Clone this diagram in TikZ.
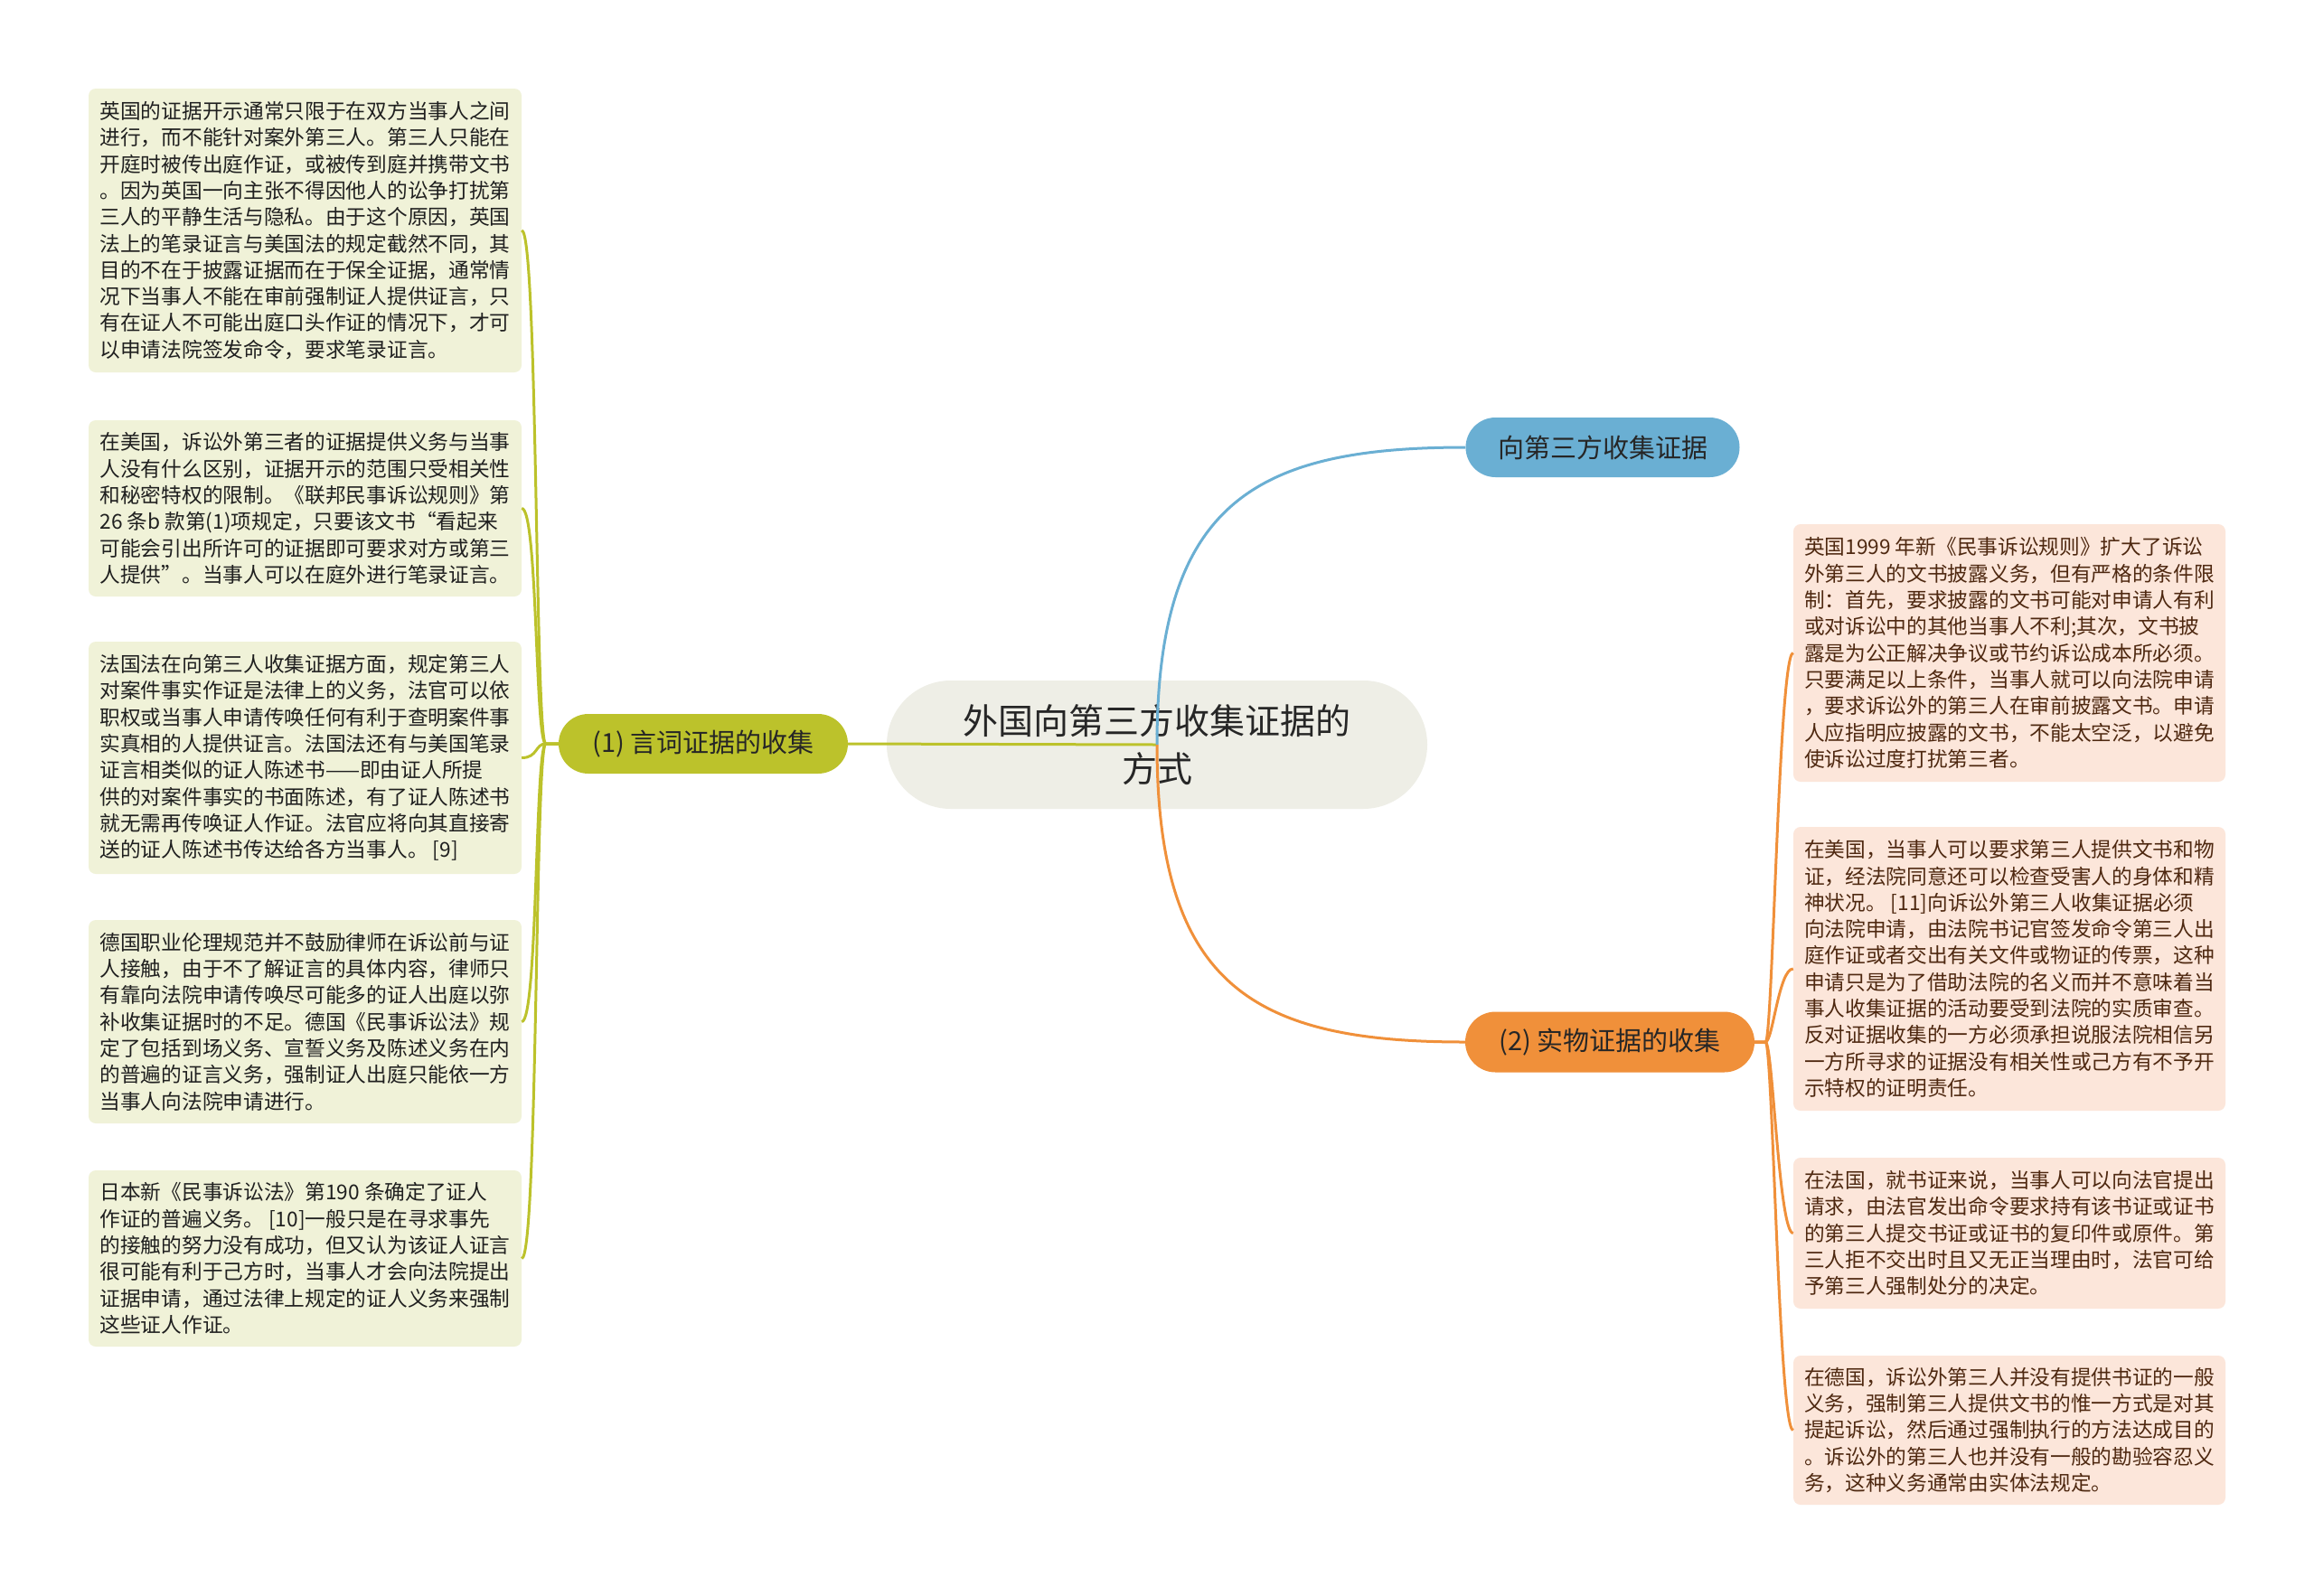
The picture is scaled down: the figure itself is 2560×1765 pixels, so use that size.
\documentclass[tikz,border=0pt]{standalone}
\usepackage{fontspec}
\setmainfont{Noto Sans CJK SC}
\usetikzlibrary{shapes.misc}
\definecolor{bluec}{HTML}{6AAFD3}
\definecolor{greenc}{HTML}{BCC22B}
\definecolor{orangec}{HTML}{F0903A}
\definecolor{centerfill}{HTML}{EEEEE6}
\definecolor{lfill}{HTML}{F0F2D8}
\definecolor{rfill}{HTML}{FCE6DA}
\definecolor{ltext}{HTML}{1F1F1F}
\definecolor{rtext}{HTML}{4E2810}
\begin{document}
\begin{tikzpicture}[x=1pt,y=-1pt,
  lbox/.style={fill=lfill, rounded corners=8pt, minimum width=479pt, align=left, text=ltext, font=\fontsize{22.7}{29.3}\selectfont, inner sep=0pt},
  rbox/.style={fill=rfill, rounded corners=8pt, minimum width=478pt, align=left, text=rtext, font=\fontsize{22.7}{29.3}\selectfont, inner sep=0pt},
  pill/.style={rounded rectangle, inner sep=0pt, font=\fontsize{29}{34}\selectfont},
  gline/.style={draw=greenc, line width=3pt},
  bline/.style={draw=bluec, line width=3pt},
  oline/.style={draw=orangec, line width=3pt}]
\useasboundingbox[fill=white] (0,0) rectangle (2560,1765);

% central node
\node[rounded rectangle, fill=centerfill, minimum width=598pt, minimum height=142pt, inner sep=0pt, align=center, text=black!85, font=\fontsize{39}{53}\selectfont] (C) at (1280,824) {外国向第三方收集证据的\\方式};

% main branches
\node[pill, fill=bluec, minimum width=303pt, minimum height=66pt, text=black!85] (B) at (1773,495) {向第三方收集证据};
\node[pill, fill=greenc, minimum width=320pt, minimum height=66pt, text=black!85] (G) at (778,823) {(1) 言词证据的收集};
\node[pill, fill=orangec, minimum width=320pt, minimum height=67pt, text=black!85] (O) at (1781,1153) {(2) 实物证据的收集};

% left boxes
\node[lbox, minimum height=314pt] (L1) at (337.5,255) {英国的证据开示通常只限于在双方当事人之间\\进行，而不能针对案外第三人。第三人只能在\\开庭时被传出庭作证，或被传到庭并携带文书\\。因为英国一向主张不得因他人的讼争打扰第\\三人的平静生活与隐私。由于这个原因，英国\\法上的笔录证言与美国法的规定截然不同，其\\目的不在于披露证据而在于保全证据，通常情\\况下当事人不能在审前强制证人提供证言，只\\有在证人不可能出庭口头作证的情况下，才可\\以申请法院签发命令，要求笔录证言。};
\node[lbox, minimum height=195pt] (L2) at (337.5,562.5) {在美国，诉讼外第三者的证据提供义务与当事\\人没有什么区别，证据开示的范围只受相关性\\和秘密特权的限制。《联邦民事诉讼规则》第\\26 条b 款第(1)项规定，只要该文书“看起来\\可能会引出所许可的证据即可要求对方或第三\\人提供”。当事人可以在庭外进行笔录证言。};
\node[lbox, minimum height=257pt] (L3) at (337.5,838.5) {法国法在向第三人收集证据方面，规定第三人\\对案件事实作证是法律上的义务，法官可以依\\职权或当事人申请传唤任何有利于查明案件事\\实真相的人提供证言。法国法还有与美国笔录\\证言相类似的证人陈述书——即由证人所提\\供的对案件事实的书面陈述，有了证人陈述书\\就无需再传唤证人作证。法官应将向其直接寄\\送的证人陈述书传达给各方当事人。 [9]};
\node[lbox, minimum height=225pt] (L4) at (337.5,1130.5) {德国职业伦理规范并不鼓励律师在诉讼前与证\\人接触，由于不了解证言的具体内容，律师只\\有靠向法院申请传唤尽可能多的证人出庭以弥\\补收集证据时的不足。德国《民事诉讼法》规\\定了包括到场义务、宣誓义务及陈述义务在内\\的普遍的证言义务，强制证人出庭只能依一方\\当事人向法院申请进行。};
\node[lbox, minimum height=195pt] (L5) at (337.5,1392.5) {日本新《民事诉讼法》第190 条确定了证人\\作证的普遍义务。 [10]一般只是在寻求事先\\的接触的努力没有成功，但又认为该证人证言\\很可能有利于己方时，当事人才会向法院提出\\证据申请，通过法律上规定的证人义务来强制\\这些证人作证。};

% right boxes
\node[rbox, minimum height=285pt] (R1) at (2223,722.5) {英国1999 年新《民事诉讼规则》扩大了诉讼\\外第三人的文书披露义务，但有严格的条件限\\制：首先，要求披露的文书可能对申请人有利\\或对诉讼中的其他当事人不利;其次，文书披\\露是为公正解决争议或节约诉讼成本所必须。\\只要满足以上条件，当事人就可以向法院申请\\，要求诉讼外的第三人在审前披露文书。申请\\人应指明应披露的文书，不能太空泛，以避免\\使诉讼过度打扰第三者。};
\node[rbox, minimum height=314pt] (R2) at (2223,1072) {在美国，当事人可以要求第三人提供文书和物\\证，经法院同意还可以检查受害人的身体和精\\神状况。 [11]向诉讼外第三人收集证据必须\\向法院申请，由法院书记官签发命令第三人出\\庭作证或者交出有关文件或物证的传票，这种\\申请只是为了借助法院的名义而并不意味着当\\事人收集证据的活动要受到法院的实质审查。\\反对证据收集的一方必须承担说服法院相信另\\一方所寻求的证据没有相关性或己方有不予开\\示特权的证明责任。};
\node[rbox, minimum height=167pt] (R3) at (2223,1364.5) {在法国，就书证来说，当事人可以向法官提出\\请求，由法官发出命令要求持有该书证或证书\\的第三人提交书证或证书的复印件或原件。第\\三人拒不交出时且又无正当理由时，法官可给\\予第三人强制处分的决定。};
\node[rbox, minimum height=165pt] (R4) at (2223,1582.5) {在德国，诉讼外第三人并没有提供书证的一般\\义务，强制第三人提供文书的惟一方式是对其\\提起诉讼，然后通过强制执行的方法达成目的\\。诉讼外的第三人也并没有一般的勘验容忍义\\务，这种义务通常由实体法规定。};

% connectors from centre
\draw[gline] (C.center) -- (G.east);
\draw[bline] (C.center) .. controls +(0,-268) and +(-233,0) .. (B.west);
\draw[oline] (C.center) .. controls +(0,268) and +(-233,0) .. (O.west);

% left bracket
\foreach \n in {L1,L2,L3,L4,L5}
  \draw[gline] (G.west) -- ++(-14,0) .. controls +(-12,0) and +(18,0) .. (\n.east);
% right bracket
\foreach \n in {R1,R2,R3,R4}
  \draw[oline] (O.east) -- ++(12,0) .. controls +(8,0) and +(-16,0) .. (\n.west);
\end{tikzpicture}
\end{document}
